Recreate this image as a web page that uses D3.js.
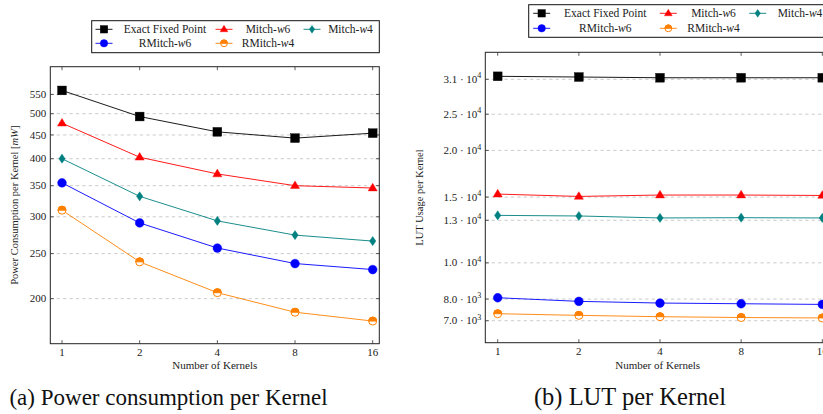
<!DOCTYPE html>
<html>
<head>
<meta charset="utf-8">
<script src="https://cdn.jsdelivr.net/npm/d3@7"></script>
<style>
html,body{margin:0;padding:0;background:#fff;}
svg{display:block;font-family:"Liberation Serif","Times New Roman",serif;}
</style>
</head>
<body>
<svg id="chart" width="823" height="414"></svg>
<script>
// ---------------- data ----------------
const kernels = [1, 2, 4, 8, 16];
const seriesNames = ["Exact Fixed Point", "Mitch-w6", "Mitch-w4", "RMitch-w6", "RMitch-w4"];

const powerExact   = [561, 493, 457, 443, 454];
const powerMitchW6 = [477, 403, 371, 350, 346];
const powerMitchW4 = [400, 332, 294, 274, 266];
const powerRMitchW6 = [355, 291, 257, 238, 231];
const powerRMitchW4 = [310, 240, 206, 187, 179];

const lutExact   = [31580, 31440, 31300, 31300, 31300];
const lutMitchW6 = [15280, 15060, 15190, 15190, 15150];
const lutMitchW4 = [13400, 13350, 13190, 13210, 13190];
const lutRMitchW6 = [8065, 7887, 7805, 7772, 7740];
const lutRMitchW4 = [7309, 7235, 7175, 7140, 7120];

const powerTicks = [200, 250, 300, 350, 400, 450, 500, 550];
const lutTicks = [7000, 8000, 10000, 13000, 15000, 20000, 25000, 31000];
const lutTickMantissa = ["7.0", "8.0", "1.0", "1.3", "1.5", "2.0", "2.5", "3.1"];
const lutTickExponent = ["3", "3", "4", "4", "4", "4", "4", "4"];

// ---------------- styles ----------------
const colors = ["#000000", "#ff0000", "#008080", "#0000ff", "#ff8000"];
const markers = ["square", "triangle", "diamond", "circle", "halfcircle"];

const svg = d3.select("#chart");

function drawMarker(g, type, color, x, y, s) {
  s = s || 1;
  if (type === "square") {
    const h = 4.4 * s;
    g.append("rect").attr("x", x - h).attr("y", y - h).attr("width", 2 * h).attr("height", 2 * h)
      .attr("fill", color).attr("stroke", color).attr("stroke-width", 0.4);
  } else if (type === "triangle") {
    const r = 4.8 * s;
    g.append("path").attr("d", `M${x},${y - r}L${x + r * 0.95},${y + r * 0.6}L${x - r * 0.95},${y + r * 0.6}Z`)
      .attr("fill", color).attr("stroke", color).attr("stroke-width", 0.4);
  } else if (type === "diamond") {
    const w = 3.2 * s, h = 4.6 * s;
    g.append("path").attr("d", `M${x},${y - h}L${x + w},${y}L${x},${y + h}L${x - w},${y}Z`)
      .attr("fill", color).attr("stroke", color).attr("stroke-width", 0.4);
  } else if (type === "circle") {
    g.append("circle").attr("cx", x).attr("cy", y).attr("r", 4.4 * s)
      .attr("fill", color).attr("stroke", color).attr("stroke-width", 0.4);
  } else if (type === "halfcircle") {
    const r = 4.0 * s;
    g.append("circle").attr("cx", x).attr("cy", y).attr("r", r)
      .attr("fill", "#fff").attr("stroke", color).attr("stroke-width", 1);
    g.append("path").attr("d", `M${x - r},${y}A${r},${r} 0 0 1 ${x + r},${y}Z`)
      .attr("fill", color).attr("stroke", color).attr("stroke-width", 1);
  }
}

function nameText(sel, name) {
  const m = name.match(/^(.*-)(w)(\d)$/);
  if (m) {
    sel.append("tspan").text(m[1]);
    sel.append("tspan").attr("font-style", "italic").text(m[2]);
    sel.append("tspan").text(m[3]);
  } else {
    sel.text(name);
  }
}

function drawPanel(cfg) {
  const g = svg.append("g");
  const x = d3.scaleLog().base(2).domain([kernels[0], kernels[kernels.length - 1]]).range(cfg.xRange);
  const y = d3.scaleLog().domain(cfg.yDomain).range(cfg.yRange);
  const [L, R, T, B] = cfg.frame;

  const clipId = "clip" + cfg.id;
  svg.append("clipPath").attr("id", clipId).append("rect")
    .attr("x", L - 8).attr("y", T - 8).attr("width", R - L + 16).attr("height", B - T + 16);

  // grid
  g.append("g").selectAll("line").data(cfg.ticks).join("line")
    .attr("x1", L).attr("x2", R).attr("y1", d => y(d)).attr("y2", d => y(d))
    .attr("stroke", "#c4c4c4").attr("stroke-width", 0.9).attr("stroke-dasharray", "3.2,3.2");

  // frame
  g.append("rect").attr("x", L).attr("y", T).attr("width", R - L).attr("height", B - T)
    .attr("fill", "none").attr("stroke", "#222").attr("stroke-width", 1);

  // ticks
  const tl = 3.5;
  const tk = g.append("g").attr("stroke", "#333").attr("stroke-width", 0.8);
  kernels.forEach(k => {
    tk.append("line").attr("x1", x(k)).attr("x2", x(k)).attr("y1", B).attr("y2", B - tl);
    tk.append("line").attr("x1", x(k)).attr("x2", x(k)).attr("y1", T).attr("y2", T + tl);
  });
  cfg.ticks.forEach(t => {
    tk.append("line").attr("x1", L).attr("x2", L + tl).attr("y1", y(t)).attr("y2", y(t));
    tk.append("line").attr("x1", R).attr("x2", R - tl).attr("y1", y(t)).attr("y2", y(t));
  });

  // x tick labels
  g.append("g").selectAll("text").data(kernels).join("text")
    .attr("x", d => x(d)).attr("y", B + 12.5).attr("text-anchor", "middle")
    .attr("font-size", 11).attr("fill", "#222").text(d => d);

  // y tick labels
  const yl = g.append("g");
  cfg.ticks.forEach((t, i) => {
    const tx = yl.append("text").attr("x", L - 4).attr("y", y(t) + 3.6)
      .attr("text-anchor", "end").attr("font-size", 11).attr("fill", "#222");
    cfg.tickLabel(tx, t, i);
  });

  // axis titles
  g.append("text").attr("x", cfg.xTitleX).attr("y", cfg.xTitleY)
    .attr("text-anchor", "middle").attr("font-size", 11).attr("fill", "#222").text("Number of Kernels");
  g.append("text")
    .attr("transform", `translate(${cfg.yTitleX},${(T + B) / 2}) rotate(-90)`)
    .attr("text-anchor", "middle").attr("font-size", 10.5).attr("fill", "#222")
    .call(cfg.yTitle);

  // series
  const plot = g.append("g").attr("clip-path", `url(#${clipId})`);
  cfg.series.forEach((vals, si) => {
    const pts = kernels.map((k, i) => [x(k), y(vals[i])]);
    plot.append("path").attr("d", d3.line()(pts))
      .attr("fill", "none").attr("stroke", colors[si]).attr("stroke-width", 0.9);
    pts.forEach(p => drawMarker(plot, markers[si], colors[si], p[0], p[1], 1));
  });

  // legend
  const lg = svg.append("g");
  const [lx, ly, lw, lh] = cfg.legendBox;
  lg.append("rect").attr("x", lx).attr("y", ly).attr("width", lw).attr("height", lh)
    .attr("fill", "#fff").attr("stroke", "#111").attr("stroke-width", 1);
  seriesNames.forEach((name, si) => {
    const col = si % 3, row = Math.floor(si / 3);
    const mx = cfg.legendMarkerX[col], my = cfg.legendRowY[row];
    lg.append("line").attr("x1", mx - 8.5).attr("x2", mx + 8.5).attr("y1", my).attr("y2", my)
      .attr("stroke", colors[si]).attr("stroke-width", 0.9);
    drawMarker(lg, markers[si], colors[si], mx, my, 0.85);
    const t = lg.append("text").attr("x", cfg.legendTextX[col]).attr("y", my + 3.8)
      .attr("text-anchor", "middle").attr("font-size", 11.5).attr("fill", "#222");
    nameText(t, name);
  });
}

// ---------------- left panel: power ----------------
drawPanel({
  id: "a",
  xRange: [62, 372.7],
  yDomain: [160, 631],
  yRange: [343.7, 66.7],
  frame: [50.3, 379.3, 66.7, 343.7],
  ticks: powerTicks,
  tickLabel: (tx, t) => tx.text(t),
  series: [powerExact, powerMitchW6, powerMitchW4, powerRMitchW6, powerRMitchW4],
  xTitleX: 214.8, xTitleY: 369,
  yTitleX: 18,
  yTitle: t => {
    t.append("tspan").text("Power Consumption per Kernel [");
    t.append("tspan").attr("font-style", "italic").text("mW");
    t.append("tspan").text("]");
  },
  legendBox: [91.7, 20.7, 287.6, 32],
  legendRowY: [29.3, 43.3],
  legendMarkerX: [104, 224, 312],
  legendTextX: [165, 268, 350.5]
});

// ---------------- right panel: LUT ----------------
drawPanel({
  id: "b",
  xRange: [497.7, 822.3],
  yDomain: [6113, 36616],
  yRange: [342.7, 52.3],
  frame: [485.3, 829.5, 52.3, 342.7],
  ticks: lutTicks,
  tickLabel: (tx, t, i) => {
    tx.append("tspan").text(lutTickMantissa[i] + " \u00B7 10");
    tx.append("tspan").attr("dy", -4.5).attr("font-size", 8).text(lutTickExponent[i]);
  },
  series: [lutExact, lutMitchW6, lutMitchW4, lutRMitchW6, lutRMitchW4],
  xTitleX: 657.7, xTitleY: 368.5,
  yTitleX: 423,
  yTitle: t => t.text("LUT Usage per Kernel"),
  legendBox: [528.7, 4.7, 302, 32.6],
  legendRowY: [13.3, 28.3],
  legendMarkerX: [541.7, 668.3, 757.7],
  legendTextX: [605.3, 713.5, 800]
});

// ---------------- captions ----------------
svg.append("text").attr("x", 168.5).attr("y", 405).attr("text-anchor", "middle")
  .attr("font-size", 23).attr("fill", "#111").text("(a) Power consumption per Kernel");
svg.append("text").attr("x", 630).attr("y", 405).attr("text-anchor", "middle")
  .attr("font-size", 24.5).attr("fill", "#111").text("(b) LUT per Kernel");
</script>
</body>
</html>
